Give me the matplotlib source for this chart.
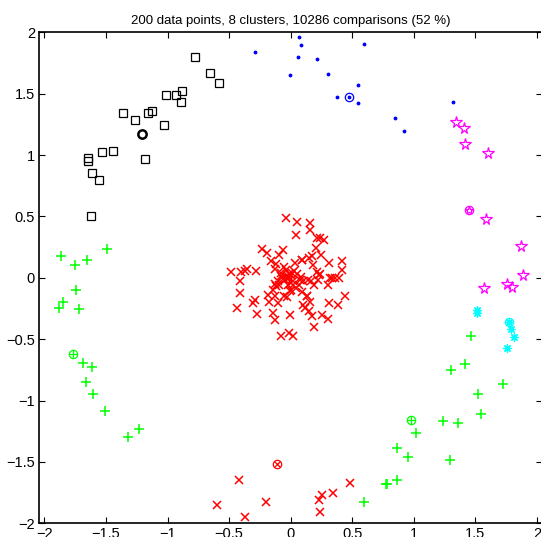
import matplotlib
matplotlib.use("Agg")
import matplotlib.pyplot as plt

plt.rcParams['font.family'] = ['Liberation Sans', 'DejaVu Sans']

title = "200 data points, 8 clusters, 10286 comparisons (52 %)"

# black squares
sq_x = [-0.78, -0.653, -0.582, -1.010, -0.929, -0.886, -0.889, -1.365, -1.262, -1.159,
        -1.127, -1.032, -1.530, -1.446, -1.649, -1.649, -1.181, -1.614, -1.557, -1.620]
sq_y = [1.795, 1.667, 1.591, 1.488, 1.488, 1.523, 1.434, 1.342, 1.282, 1.342,
        1.358, 1.246, 1.026, 1.035, 0.975, 0.951, 0.964, 0.858, 0.796, 0.505]
sq_c = (-1.21, 1.173)

# blue dots
dot_x = [-0.287, 0.067, 0.086, 0.062, 0.216, -0.003, 0.306, 0.598, 0.547, 0.376,
         0.547, 0.850, 0.918, 1.316]
dot_y = [1.838, 1.958, 1.898, 1.803, 1.782, 1.656, 1.659, 1.904, 1.572, 1.475,
         1.428, 1.298, 1.200, 1.434]
dot_c = (0.471, 1.475)

# magenta stars
star_x = [1.343, 1.411, 1.413, 1.600, 1.587, 1.868, 1.887, 1.573, 1.757, 1.800]
star_y = [1.273, 1.222, 1.092, 1.018, 0.483, 0.261, 0.022, -0.079, -0.049, -0.071]
star_c = (1.446, 0.551)

# cyan asterisks
ast_x = [1.516, 1.511, 1.787, 1.816, 1.755]
ast_y = [-0.263, -0.288, -0.415, -0.486, -0.573]
ast_c = (1.771, -0.356)

# green plus, right arc
gr_x = [1.462, 1.418, 1.302, 1.722, 1.524, 1.543, 1.237, 1.362, 1.015, 0.861,
        0.953, 1.297, 0.861, 0.774, 0.782, 0.595]
gr_y = [-0.478, -0.706, -0.752, -0.864, -0.950, -1.111, -1.170, -1.184, -1.268, -1.388,
        -1.456, -1.488, -1.651, -1.676, -1.681, -1.825]
gr_c = (0.975, -1.162)

# green plus, left arc
gl_x = [-1.868, -1.755, -1.655, -1.490, -1.744, -1.852, -1.885, -1.722, -1.687, -1.614,
        -1.663, -1.604, -1.511, -1.324, -1.235]
gl_y = [0.179, 0.106, 0.147, 0.234, -0.100, -0.196, -0.242, -0.258, -0.698, -0.725,
        -0.850, -0.948, -1.089, -1.298, -1.230]
gl_c = (-1.768, -0.622)

# red crosses, bottom
rb_x = [-0.596, -0.418, -0.369, -0.203, 0.484, 0.346, 0.254, 0.232, 0.238]
rb_y = [-1.847, -1.651, -1.950, -1.830, -1.668, -1.752, -1.768, -1.809, -1.906]
rb_c = (-0.111, -1.518)

# red crosses, centre
rc_x = [-0.041, 0.051, 0.157, 0.157, 0.041, 0.216, 0.240, 0.271, 0.206, -0.230,
        -0.193, -0.065, -0.097, 0.246, 0.176, 0.151, 0.092, -0.160, 0.314, 0.419,
        -0.117, -0.057, 0.035, 0.181, -0.487, -0.404, -0.371, -0.355, -0.279, -0.130,
        0.024, 0.216, 0.236, 0.414, 0.319, 0.357, 0.395, -0.414, -0.081, -0.028,
        0.100, 0.162, 0.225, 0.300, 0.187, 0.070, 0.021, -0.093, -0.125, -0.412,
        -0.146, 0.000, 0.094, 0.441, -0.184, -0.128, 0.132, -0.033, -0.052, -0.288,
        -0.304, -0.176, -0.106, 0.154, 0.314, 0.384, -0.439, 0.102, 0.119, 0.146,
        -0.144, -0.276, -0.006, 0.171, 0.257, 0.306, -0.128, 0.187, -0.081, -0.011,
        0.021, 0.089, 0.076, 0.143, 0.333, 0.135, -0.006, -0.016, 0.232,
        -0.030, 0.000, -0.060, 0.020, -0.100, -0.080, 0.050, -0.020, -0.120, 0.040,
        -0.040, 0.080, -0.010, -0.070, 0.010, -0.050]
rc_y = [0.491, 0.454, 0.443, 0.391, 0.347, 0.326, 0.323, 0.312, 0.239, 0.234,
        0.201, 0.228, 0.185, 0.182, 0.177, 0.163, 0.147, 0.133, 0.122, 0.133,
        0.112, 0.087, 0.117, 0.108, 0.051, 0.049, 0.057, 0.073, 0.057, 0.071,
        0.057, 0.051, 0.033, 0.063, -0.002, -0.002, -0.002, -0.024, 0.016, -0.002,
        -0.024, -0.024, -0.014, -0.060, -0.060, -0.060, -0.057, -0.060, -0.052, -0.122,
        -0.098, -0.098, -0.119, -0.149, -0.136, -0.147, -0.149, -0.160, -0.152, -0.177,
        -0.209, -0.193, -0.209, -0.193, -0.204, -0.223, -0.242, -0.225, -0.247, -0.269,
        -0.288, -0.293, -0.307, -0.315, -0.307, -0.334, -0.342, -0.399, -0.473, -0.448,
        -0.478, 0.144, -0.016, -0.016, 0.002, -0.152, -0.106, 0.000, 0.024,
        0.000, 0.020, -0.010, -0.030, -0.030, 0.040, 0.030, -0.060, -0.070, -0.080,
        0.060, 0.010, 0.030, 0.010, 0.040, -0.020]
rc_c = (-0.03, 0.0)

ticks = [-2, -1.5, -1, -0.5, 0, 0.5, 1, 1.5, 2]
tick_labels = ["\u22122", "\u22121.5", "\u22121", "\u22120.5", "0", "0.5", "1", "1.5", "2"]

RED, GREEN, BLUE = '#ff0000', '#00ff00', '#0000ff'
CYAN, MAGENTA, BLACK = '#00ffff', '#ff00ff', '#000000'

fig = plt.figure(figsize=(5.41, 5.37), dpi=100)
ax = fig.add_axes([0.0726, 0.0255, 0.9292, 0.9143])

ms = 6
ax.plot(sq_x, sq_y, 's', color=BLACK, mfc='none', ms=ms, mew=0.9)
ax.plot(*sq_c, 'o', color=BLACK, mfc='none', ms=ms, mew=1.8)

ax.plot(dot_x, dot_y, '.', color=BLUE, ms=3.5)
ax.plot(*dot_c, '.', color=BLUE, ms=3.5)
ax.plot(*dot_c, 'o', color=BLUE, mfc='none', ms=ms, mew=0.9)

ax.plot(star_x, star_y, '*', color=MAGENTA, mfc='none', ms=8.5, mew=0.9)
ax.plot(*star_c, '*', color=MAGENTA, mfc='none', ms=6, mew=0.9)
ax.plot(*star_c, 'o', color=MAGENTA, mfc='none', ms=ms, mew=0.9)

ax.plot(ast_x, ast_y, marker=(8, 2, 0), ls='none', color=CYAN, ms=ms, mew=0.9)
ax.plot(*ast_c, marker=(8, 2, 0), ls='none', color=CYAN, ms=ms, mew=0.9)
ax.plot(*ast_c, 'o', color=CYAN, mfc='none', ms=ms, mew=0.9)

for xs, ys, c in [(gr_x, gr_y, gr_c), (gl_x, gl_y, gl_c)]:
    ax.plot(xs, ys, '+', color=GREEN, ms=ms + 1, mew=1.1)
    ax.plot(*c, '+', color=GREEN, ms=ms, mew=0.9)
    ax.plot(*c, 'o', color=GREEN, mfc='none', ms=ms, mew=0.9)

for xs, ys, c in [(rb_x, rb_y, rb_c), (rc_x, rc_y, rc_c)]:
    ax.plot(xs, ys, 'x', color=RED, ms=5.5, mew=1.1)
    ax.plot(*c, 'x', color=RED, ms=5, mew=0.9)
    ax.plot(*c, 'o', color=RED, mfc='none', ms=ms, mew=0.9)

ax.set_xlim(-2.042, 2.041)
ax.set_ylim(-2, 2)
ax.set_xticks(ticks)
ax.set_xticklabels(tick_labels)
ax.set_yticks(ticks)
ax.set_yticklabels(tick_labels)
ax.tick_params(direction='in', top=True, right=True, length=4, width=0.8,
               labelsize=10.5, pad=3)
for s in ax.spines.values():
    s.set_linewidth(1.2)
ax.set_title(title, fontsize=9.5, pad=6)

fig.savefig("out.png", dpi=100)
